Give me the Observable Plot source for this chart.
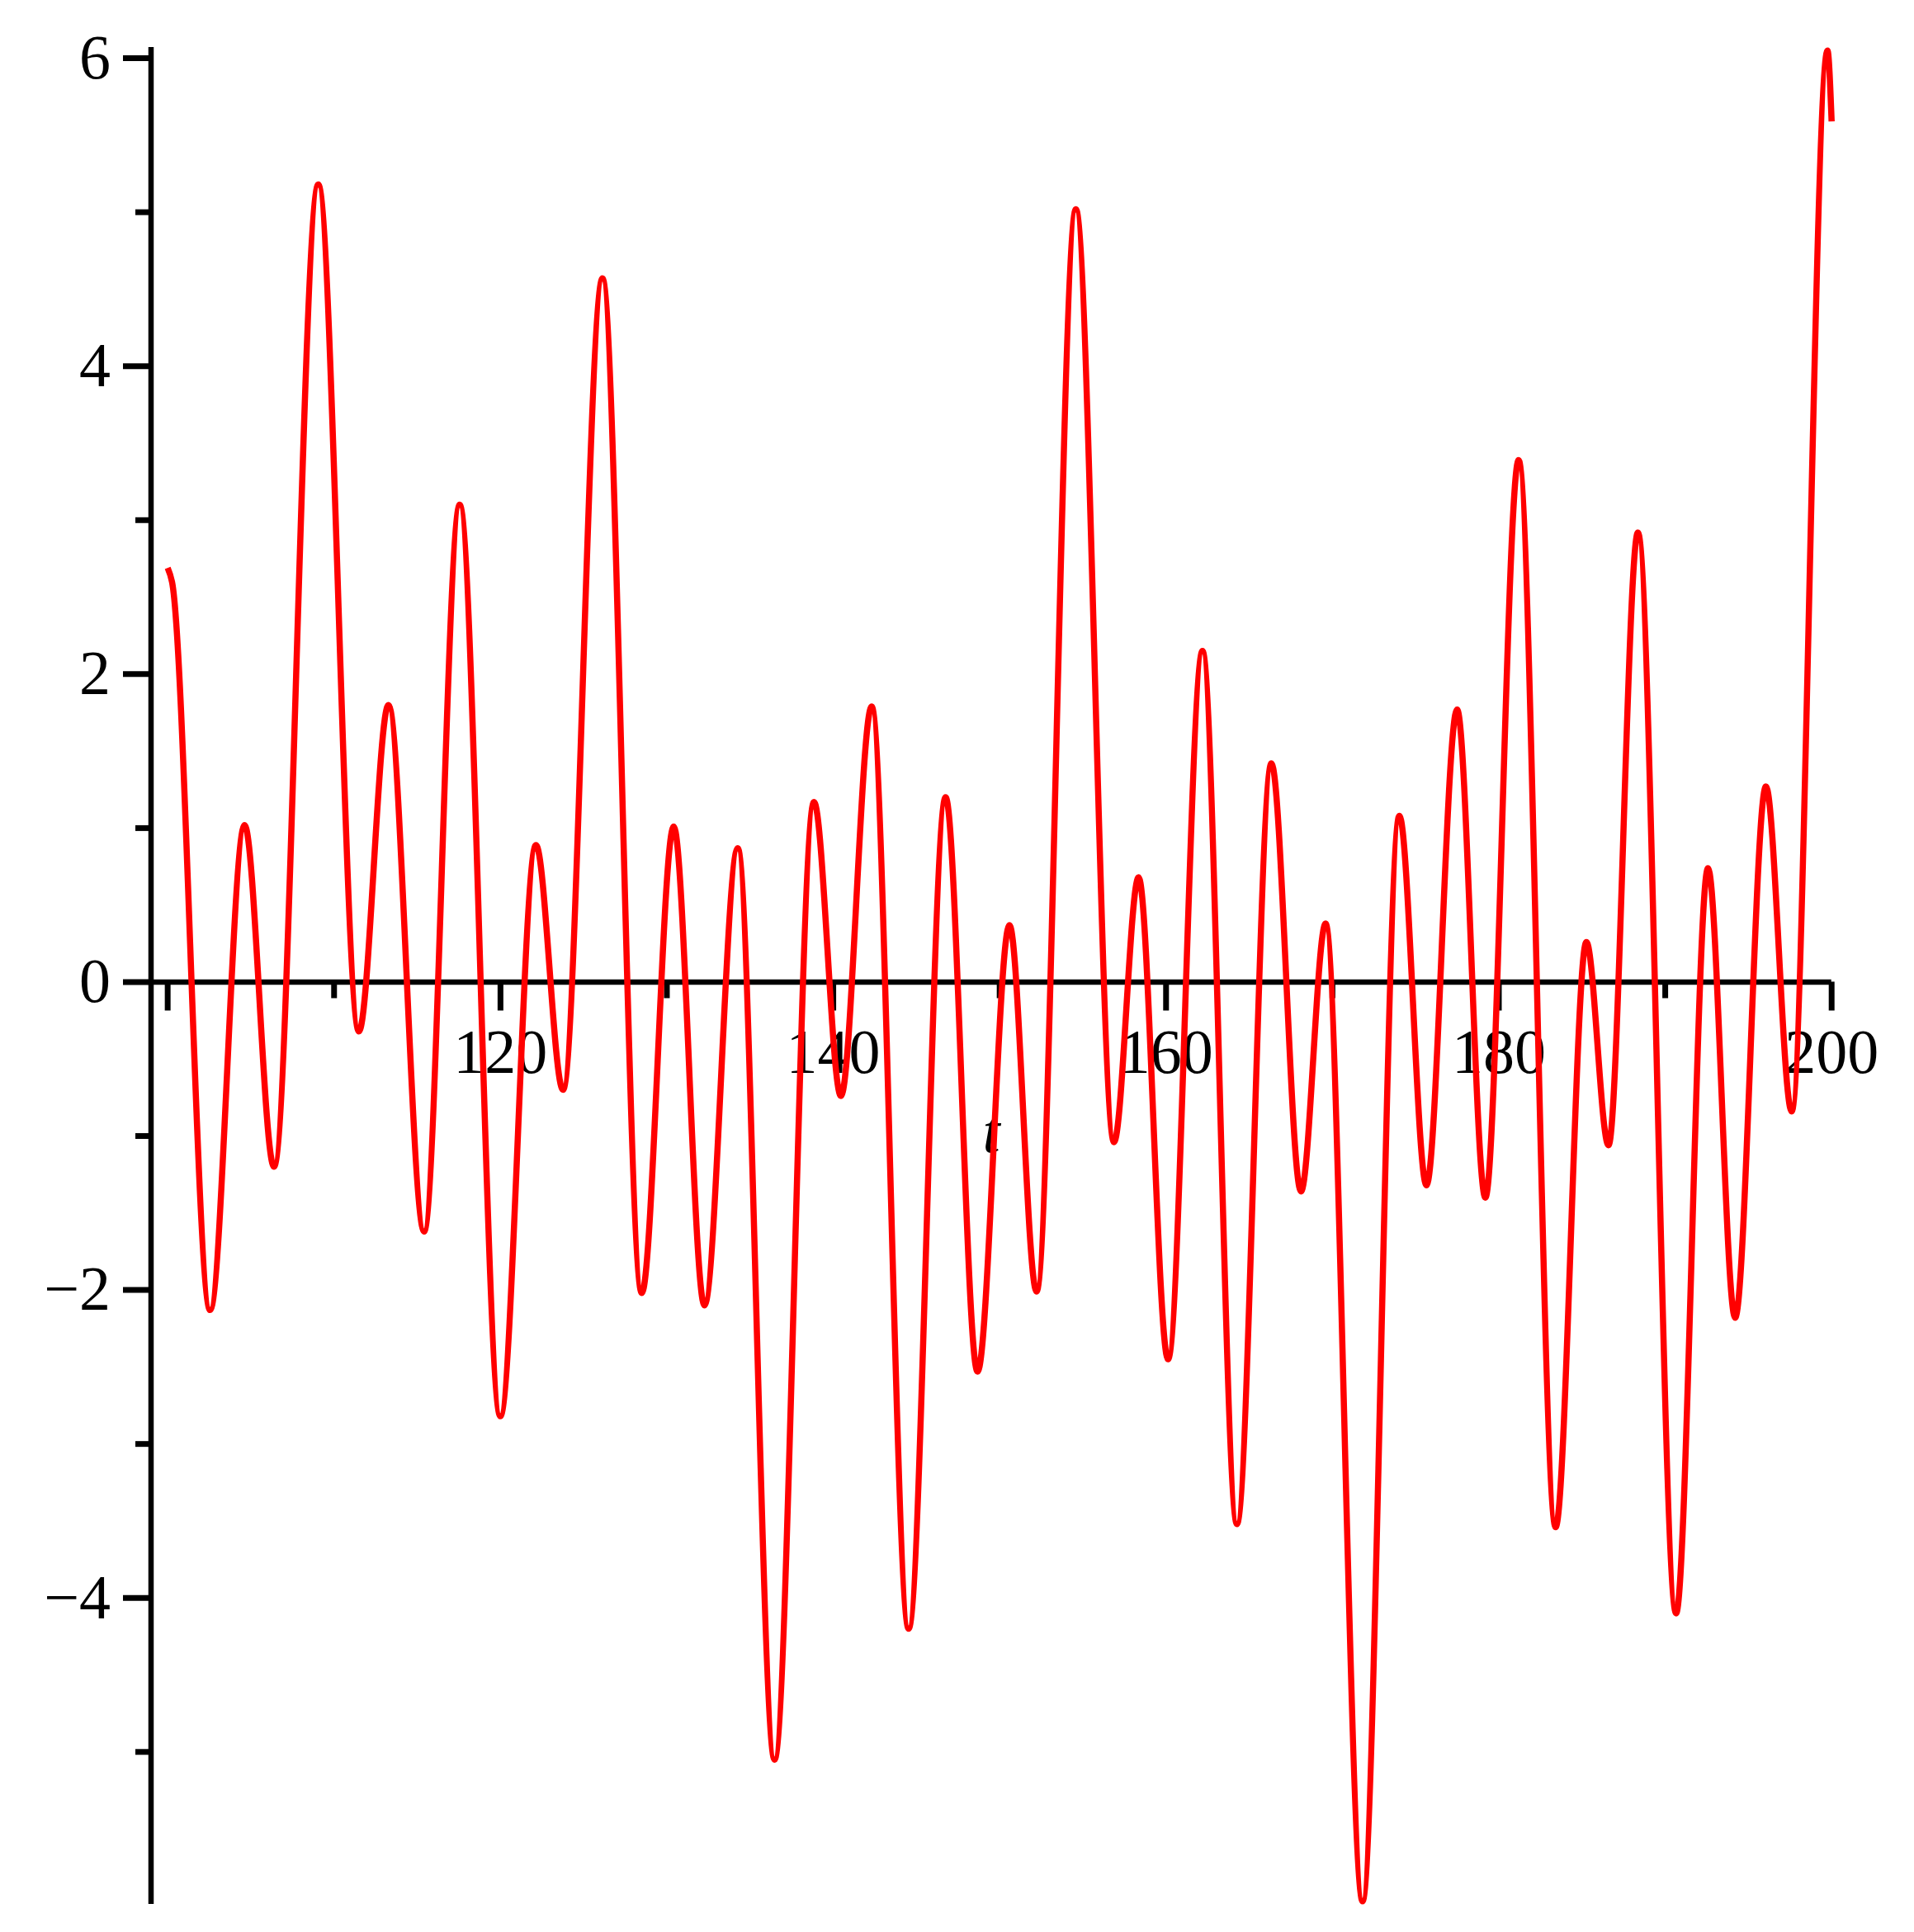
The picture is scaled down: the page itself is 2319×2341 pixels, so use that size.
<!DOCTYPE html>
<html>
<head>
<meta charset="utf-8">
<script src="https://cdn.jsdelivr.net/npm/d3@7"></script>
<script src="https://cdn.jsdelivr.net/npm/@observablehq/plot@0.6"></script>
<style>
  html, body { margin: 0; padding: 0; background: #fff; overflow: hidden; }
  #chart svg { display: block; }
</style>
</head>
<body>
<div id="chart"></div>
<script>
// Curve: its turning points (t, value)
const tValues = [100.0, 100.26, 102.55, 104.62, 106.39, 109.05, 111.49, 113.27, 115.41, 117.55,
  119.99, 122.13, 123.76, 126.13, 128.49, 130.41, 132.26, 134.26, 136.47, 138.84,
  140.46, 142.31, 144.53, 146.75, 148.67, 150.59, 152.22, 154.58, 156.87, 158.35,
  160.12, 162.19, 164.26, 166.33, 168.11, 169.59, 171.81, 174.02, 175.65, 177.49,
  179.19, 181.19, 183.41, 185.26, 186.59, 188.36, 190.65, 192.57, 194.2, 196.05,
  197.6, 199.75, 200.0];
const yValues = [2.69, 2.6, -2.13, 1.02, -1.2, 5.18, -0.32, 1.8, -1.62, 3.1,
  -2.82, 0.89, -0.7, 4.57, -2.02, 1.01, -2.1, 0.87, -5.05, 1.17,
  -0.74, 1.79, -4.2, 1.2, -2.53, 0.37, -2.01, 5.02, -1.04, 0.68,
  -2.45, 2.15, -3.52, 1.42, -1.36, 0.38, -5.97, 1.08, -1.32, 1.77,
  -1.4, 3.39, -3.54, 0.26, -1.06, 2.92, -4.1, 0.74, -2.18, 1.27,
  -0.84, 6.05, 5.59];

const xDomain = [99, 200];
const yDomain = [-5.99, 6.07];

const xMajorTicks = [100, 120, 140, 160, 180, 200];
const xMinorTicks = [110, 130, 150, 170, 190];
const xLabelTicks = [120, 140, 160, 180, 200];
const xTickLabels = ["120", "140", "160", "180", "200"];
const xAxisLabel = "t";

const yMajorTicks = [-4, -2, 0, 2, 4, 6];
const yMinorTicks = [-5, -3, -1, 1, 3, 5];
const yTickLabels = ["\u22124", "\u22122", "0", "2", "4", "6"];

const curve = tValues.map((t, i) => ({t, v: yValues[i]}));

const font = "'Liberation Serif', 'Times New Roman', serif";
const fs = 76;

const chart = Plot.plot({
  width: 2319,
  height: 2341,
  marginLeft: 182.5,
  marginRight: 100.3,
  marginTop: 57,
  marginBottom: 34,
  x: {domain: xDomain, axis: null},
  y: {domain: yDomain, axis: null},
  marks: [
    // axes lines
    Plot.ruleY([0], {x1: xDomain[0], x2: xDomain[1], stroke: "black", strokeWidth: 6.5}),
    Plot.ruleX([xDomain[0]], {y1: yDomain[0], y2: yDomain[1], stroke: "black", strokeWidth: 6.5}),
    // x ticks
    Plot.ruleX(xMajorTicks, {x: d => d, y1: 0, y2: 0, insetBottom: -35, stroke: "black", strokeWidth: 7}),
    Plot.ruleX(xMinorTicks, {x: d => d, y1: 0, y2: 0, insetBottom: -20, stroke: "black", strokeWidth: 7}),
    // y ticks
    Plot.ruleY(yMajorTicks, {y: d => d, x1: xDomain[0], x2: xDomain[0], insetLeft: -33.5, stroke: "black", strokeWidth: 7}),
    Plot.ruleY(yMinorTicks, {y: d => d, x1: xDomain[0], x2: xDomain[0], insetLeft: -18.5, stroke: "black", strokeWidth: 7}),
    // tick labels
    Plot.text(xLabelTicks, {x: d => d, y: 0, text: (d, i) => xTickLabels[i], dy: 110, lineAnchor: "bottom",
      textAnchor: "middle", fontFamily: font, fontSize: fs, fill: "black"}),
    Plot.text(yMajorTicks, {x: xDomain[0], y: d => d, text: (d, i) => yTickLabels[i], dx: -49, lineAnchor: "middle",
      textAnchor: "end", fontFamily: font, fontSize: fs, fill: "black"}),
    // axis label
    Plot.text([xAxisLabel], {x: (xDomain[0] + xDomain[1]) / 2, y: 0, text: d => d, dy: 206, lineAnchor: "bottom",
      textAnchor: "middle", fontFamily: font, fontSize: fs, fontStyle: "italic", fill: "black"}),
    // the curve
    Plot.line(curve, {x: "t", y: "v", curve: "monotone-x", stroke: "#ff0000", strokeWidth: 7.5,
      strokeLinecap: "butt", strokeLinejoin: "round"})
  ]
});
document.getElementById("chart").appendChild(chart);
</script>
</body>
</html>
